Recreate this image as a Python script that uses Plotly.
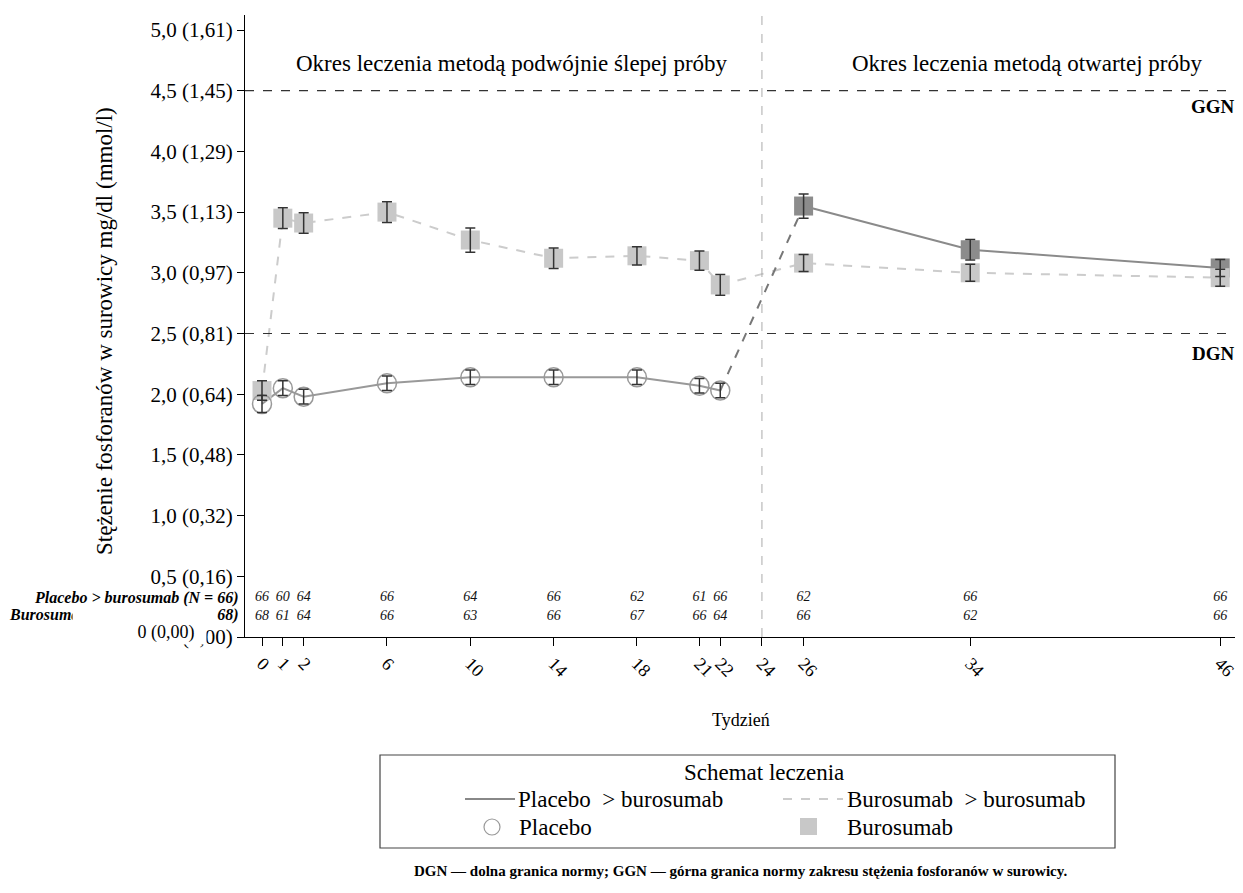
import plotly.graph_objects as go

# ---------------- data ----------------
weeks_all = [0, 1, 2, 6, 10, 14, 18, 21, 22, 26, 34, 46]
buro_vals = [2.03, 3.45, 3.41, 3.50, 3.27, 3.12, 3.14, 3.10, 2.90, 3.08, 3.00, 2.96]
buro_err = [0.08, 0.085, 0.085, 0.085, 0.10, 0.085, 0.075, 0.08, 0.085, 0.07, 0.07, 0.07]

placebo_weeks_db = [0, 1, 2, 6, 10, 14, 18, 21, 22]
placebo_vals_db = [1.92, 2.05, 1.98, 2.09, 2.14, 2.14, 2.14, 2.07, 2.03]
placebo_err_db = [0.07, 0.06, 0.06, 0.06, 0.06, 0.06, 0.06, 0.06, 0.06]

placebo_weeks_ol = [26, 34, 46]
placebo_vals_ol = [3.55, 3.19, 3.04]
placebo_err_ol = [0.10, 0.085, 0.07]

n_placebo = [66, 60, 64, 66, 64, 66, 62, 61, 66, 62, 66, 66]
n_buro = [68, 61, 64, 66, 63, 66, 67, 66, 64, 66, 62, 66]

x_ticks = [0, 1, 2, 6, 10, 14, 18, 21, 22, 24, 26, 34, 46]
y_ticks = [0, 0.5, 1.0, 1.5, 2.0, 2.5, 3.0, 3.5, 4.0, 4.5, 5.0]
y_ticktext = ["0 (0,00)", "0,5 (0,16)", "1,0 (0,32)", "1,5 (0,48)", "2,0 (0,64)",
              "2,5 (0,81)", "3,0 (0,97)", "3,5 (1,13)", "4,0 (1,29)", "4,5 (1,45)", "5,0 (1,61)"]
lln, uln = 2.5, 4.5
switch_week = 24

# ---------------- layout helpers ----------------
OFF = 8                      # page body margin
W_FIG, H_FIG = 1243 - OFF, 893 - OFF
L, R, T, B = 245, 1240, 15, 637   # plot area in screen pixels
PW, PH = R - L, B - T
YTOP = 5.1236

def px(x):
    return (x - L) / PW
def py(y):
    return (B - y) / PH

SERIF = "Liberation Serif"
LIGHT = "#c8c8c8"
DARK = "#8c8c8c"
ERRC = "#333333"

fig = go.Figure()

# lines
fig.add_trace(go.Scatter(x=weeks_all, y=buro_vals, mode="lines",
                         line=dict(color="#cccccc", width=2, dash="dash"), hoverinfo="skip"))
fig.add_trace(go.Scatter(x=placebo_weeks_db, y=placebo_vals_db, mode="lines",
                         line=dict(color="#999999", width=2), hoverinfo="skip"))
fig.add_trace(go.Scatter(x=[placebo_weeks_db[-1], placebo_weeks_ol[0]],
                         y=[placebo_vals_db[-1], placebo_vals_ol[0]], mode="lines",
                         line=dict(color="#777777", width=2, dash="dash"), hoverinfo="skip"))
fig.add_trace(go.Scatter(x=placebo_weeks_ol, y=placebo_vals_ol, mode="lines",
                         line=dict(color="#8a8a8a", width=2), hoverinfo="skip"))

# markers
fig.add_trace(go.Scatter(x=placebo_weeks_ol, y=placebo_vals_ol, mode="markers",
                         marker=dict(symbol="square", size=19, color=DARK, line=dict(width=0))))
fig.add_trace(go.Scatter(x=weeks_all, y=buro_vals, mode="markers",
                         marker=dict(symbol="square", size=19, color=LIGHT, line=dict(width=0))))
fig.add_trace(go.Scatter(x=placebo_weeks_db, y=placebo_vals_db, mode="markers",
                         marker=dict(symbol="circle", size=19, color="rgba(255,255,255,0)",
                                     line=dict(color="#999999", width=1.5))))

# error bars on top
for xs, ys, es in [(weeks_all, buro_vals, buro_err),
                   (placebo_weeks_db, placebo_vals_db, placebo_err_db),
                   (placebo_weeks_ol, placebo_vals_ol, placebo_err_ol)]:
    fig.add_trace(go.Scatter(x=xs, y=ys, mode="markers", marker=dict(size=1, opacity=0),
                             error_y=dict(type="data", array=es, visible=True,
                                          color=ERRC, thickness=1.5, width=5),
                             hoverinfo="skip"))

# numbers at risk
row1_y = (B - 597) / PH * YTOP
row2_y = (B - 616) / PH * YTOP
fig.add_trace(go.Scatter(x=weeks_all, y=[row1_y] * len(weeks_all), mode="text",
                         text=[f"<i>{v}</i>" for v in n_placebo],
                         textfont=dict(family=SERIF, size=14, color="#111"), hoverinfo="skip"))
fig.add_trace(go.Scatter(x=weeks_all, y=[row2_y] * len(weeks_all), mode="text",
                         text=[f"<i>{v}</i>" for v in n_buro],
                         textfont=dict(family=SERIF, size=14, color="#111"), hoverinfo="skip"))

shapes = []
for v in (uln, lln):
    shapes.append(dict(type="line", xref="paper", yref="y", x0=0, x1=1, y0=v, y1=v,
                       line=dict(color="#333333", width=1.2, dash="dash")))
shapes.append(dict(type="line", xref="x", yref="paper", x0=switch_week, x1=switch_week,
                   y0=0, y1=1, line=dict(color="#aaaaaa", width=1, dash="dash")))

# legend box
shapes.append(dict(type="rect", xref="paper", yref="paper", x0=px(380), x1=px(1115),
                   y0=py(848), y1=py(755), line=dict(color="#444", width=1.2)))
shapes.append(dict(type="line", xref="paper", yref="paper", x0=px(465), x1=px(515),
                   y0=py(799), y1=py(799), line=dict(color="#888888", width=2)))
shapes.append(dict(type="line", xref="paper", yref="paper", x0=px(783), x1=px(843),
                   y0=py(799), y1=py(799), line=dict(color="#cccccc", width=2, dash="dash")))
shapes.append(dict(type="circle", xref="paper", yref="paper", x0=px(484), x1=px(500),
                   y0=py(835), y1=py(819), line=dict(color="#999999", width=1.2)))
shapes.append(dict(type="rect", xref="paper", yref="paper", x0=px(800), x1=px(817),
                   y0=py(835), y1=py(818), fillcolor=LIGHT, line=dict(width=0)))

ann = []
def text(x, y, s, size, xanchor="center", yanchor="middle", **kw):
    ann.append(dict(xref="paper", yref="paper", x=px(x), y=py(y), text=s, showarrow=False,
                    xanchor=xanchor, yanchor=yanchor,
                    font=dict(family=SERIF, size=size, color="black"), **kw))

text(512, 63, "Okres leczenia metodą podwójnie ślepej próby", 23)
text(1027, 63, "Okres leczenia metodą otwartej próby", 23)
text(1237, 107, "<b>GGN</b>", 19, xanchor="right")
text(1237, 353, "<b>DGN</b>", 19, xanchor="right")
text(741, 720, "Tydzień", 18)
text(104, 331, "Stężenie fosforanów w surowicy mg/dl (mmol/l)", 23, textangle=-90)
text(241, 598, "<b><i>Placebo > burosumab (N = 66)</i></b>", 16, xanchor="right")
text(241, 615, "<b><i>Burosumab > burosumab (N = 68)</i></b>", 16, xanchor="right")
# covering boxes (as in the reference)
ann.append(dict(xref="paper", yref="paper", x=px(72), y=py(606), text=" ", showarrow=False,
                xanchor="left", yanchor="top", width=140, height=21, bgcolor="white",
                borderpad=0, font=dict(size=10)))
ann.append(dict(xref="paper", yref="paper", x=px(166), y=py(632), text="0 (0,00)",
                showarrow=False, xanchor="center", yanchor="middle", bgcolor="white",
                width=80, height=24, borderpad=0,
                font=dict(family=SERIF, size=18, color="black")))
# legend texts
text(764, 772, "Schemat leczenia", 23)
text(516, 799, "Placebo  > burosumab", 23, xanchor="left")
text(845, 799, "Burosumab  > burosumab", 23, xanchor="left")
text(517, 827, "Placebo", 23, xanchor="left")
text(845, 827, "Burosumab", 23, xanchor="left")
text(740, 871, "<b>DGN — dolna granica normy; GGN — górna granica normy zakresu stężenia fosforanów w surowicy.</b>", 15)

fig.update_layout(
    width=W_FIG, height=H_FIG,
    margin=dict(l=L - OFF, r=W_FIG - (R - OFF), t=T - OFF, b=H_FIG - (B - OFF), autoexpand=False),
    paper_bgcolor="white", plot_bgcolor="white",
    showlegend=False,
    shapes=shapes, annotations=ann,
    xaxis=dict(range=[-0.816, 46.95], tickvals=x_ticks, ticktext=[str(t) for t in x_ticks],
               tickangle=45, ticks="outside", ticklen=8, tickcolor="black",
               showline=True, linecolor="black", linewidth=1.2, showgrid=False, zeroline=False,
               tickfont=dict(family=SERIF, size=18, color="black")),
    yaxis=dict(range=[0, YTOP], tickvals=y_ticks, ticktext=y_ticktext,
               ticks="outside", ticklen=7, tickcolor="black",
               showline=True, linecolor="black", linewidth=1.2, showgrid=False, zeroline=False,
               tickfont=dict(family=SERIF, size=21, color="black")),
)

fig.write_html("out.html")
